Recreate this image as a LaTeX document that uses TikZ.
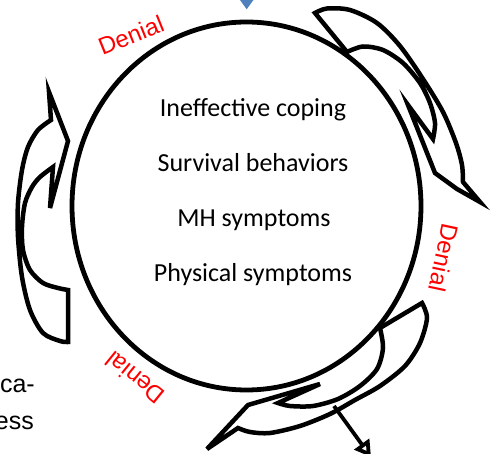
\documentclass[tikz,border=0pt]{standalone}
\usepackage{fontspec}
\setmainfont{Carlito}
\newfontfamily\arialfont{Liberation Sans}
\usetikzlibrary{arrows.meta,shapes.geometric}
\definecolor{cueblue}{RGB}{79,129,189}

\begin{document}
\begin{tikzpicture}[x=1pt,y=-1pt,
  item/.style={font=\fontsize{26}{30}\selectfont,anchor=base},
  denial/.style={font=\arialfont\fontsize{24}{28}\selectfont,text=red},
  cut/.style={font=\arialfont\fontsize{25}{30}\selectfont,anchor=base east,inner sep=0pt},
  band/.style={draw,line width=4.5pt,line join=miter,miter limit=8}]
\useasboundingbox (0,0) rectangle (499,454);
\clip (0,0) rectangle (499,454);
% Cycle ring
\node[draw,ellipse,line width=4.8pt,inner sep=0pt,minimum width=349pt,
  minimum height=368pt] (ring) at (246.5,206) {};
\node[item] (cope) at (253,117) {Ineffective coping};
\node[item] (surv) at (253,172) {Survival behaviors};
\node[item] (mh) at (254,227) {MH symptoms};
\node[item] (phys) at (253,282) {Physical symptoms};
% Denial labels
\node[denial,rotate=22] (den1) at (131,35) {Denial};
\node[denial,rotate=-102] (den2) at (444,258) {Denial};
\node[denial,rotate=141] (den3) at (135,378) {Denial};
% Cut-off side text
\node[cut] (side1) at (35,393) {ca-};
\node[cut] (side2) at (34,430) {ess};
% Incoming tip at top
\fill[cueblue] (240,0) -- (253.4,0) -- (246.7,9.3) -- cycle;
% Curved arrows
\draw[band] (315,13) -- plot[smooth] coordinates {(315,13) (327,8.5) (350,10)
  (377,23) (400,46) (423,79) (443,112) (456,143) (462,165) (463,182)}
  -- (480,202) -- (457,189) -- (435,173) -- (408,105) -- (433,139)
  -- plot[smooth] coordinates {(433,139) (435,123) (430,103) (420,83)
  (403,63) (383,50) (363,46.5) (347,52)} -- cycle;
\draw[band] (49,92) -- (51,120) -- plot[smooth] coordinates {(51,120) (38,130)
  (28,147) (22,170) (18,203) (18,237) (22,277) (30,310) (43,333) (60,341) (68,342)}
  -- (68,290) -- plot[smooth] coordinates {(68,290) (58,288) (43,283) (30,270)
  (23,250) (22,227) (25,203) (32,187) (40,177) (53,167)}
  -- (50,208) -- (68,141) -- cycle;
\draw[band] (422,303) -- plot[smooth] coordinates {(422,303) (427,318) (420,343)
  (405,366) (380,386) (355,400) (330,414) (300,426) (270,433) (250,432) (238,428)}
  -- (207,449) -- (248,405) -- (320,384) -- (278,403)
  -- plot[smooth] coordinates {(278,403) (290,406) (313,406) (338,399)
  (360,386) (377,369) (383,348) (380,328)} -- cycle;
% Exit arrow
\coordinate (exitfrom) at (334,406);
\coordinate (exitto) at (371,457);
\draw[line width=3.8pt,-{Triangle[open,length=16pt,width=18pt]}] (exitfrom) -- (exitto);
\end{tikzpicture}
\end{document}
